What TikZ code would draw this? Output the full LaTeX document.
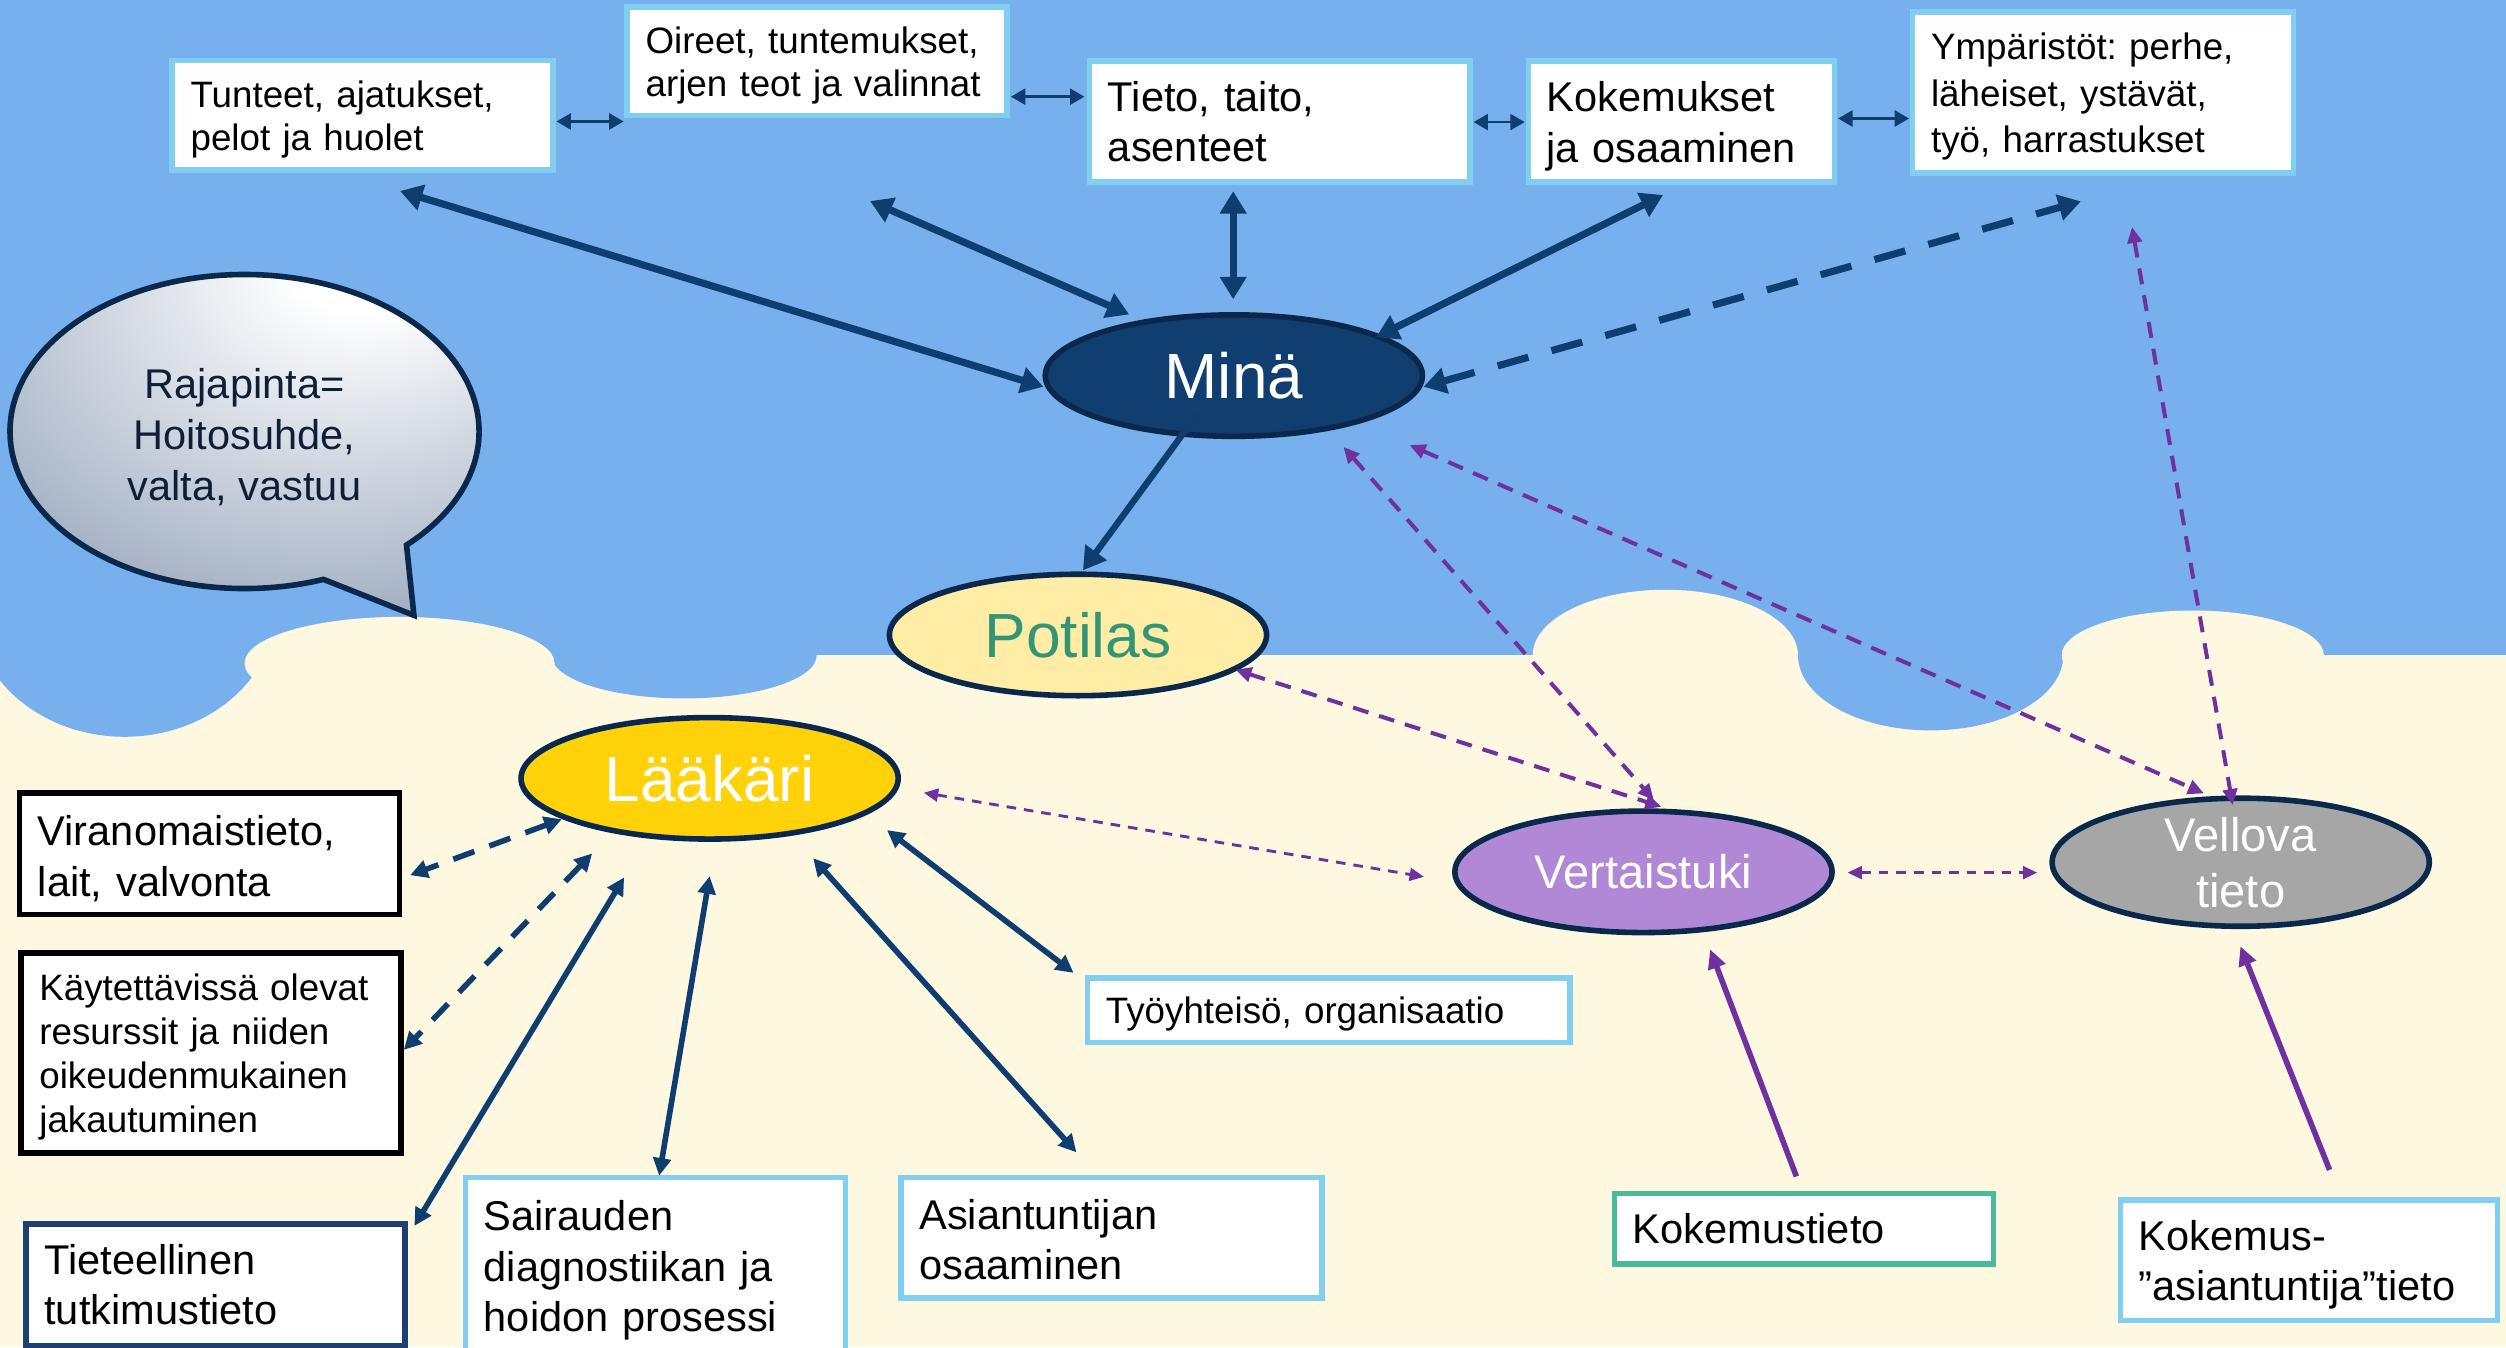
\documentclass[tikz,border=0pt]{standalone}
\usepackage{fontspec}
\setmainfont{Liberation Sans}
\usetikzlibrary{arrows.meta,calc,shapes.geometric,shapes.callouts}

\definecolor{sky}{RGB}{119,176,236}
\definecolor{sand}{RGB}{254,248,224}
\definecolor{boxblue}{RGB}{128,207,241}
\definecolor{navy}{RGB}{14,62,112}
\definecolor{rim}{RGB}{10,40,75}
\definecolor{minafill}{RGB}{16,62,112}
\definecolor{patfill}{RGB}{255,237,166}
\definecolor{pattext}{RGB}{52,148,118}
\definecolor{docfill}{RGB}{255,210,10}
\definecolor{peerfill}{RGB}{176,136,214}
\definecolor{vellfill}{RGB}{166,166,166}
\definecolor{peer}{RGB}{112,48,160}
\definecolor{expgreen}{RGB}{72,187,154}
\definecolor{bubbledark}{RGB}{112,132,162}
\definecolor{bubbletext}{RGB}{15,30,55}
\definecolor{sciblue}{RGB}{31,63,112}

\pgfdeclareradialshading{bubbleshade}{\pgfpoint{14bp}{30bp}}{color(0bp)=(white); color(8bp)=(white); color(62bp)=(bubbledark); color(100bp)=(bubbledark)}

\newcommand\fsmall{\fontsize{23}{27}\selectfont}
\newcommand\flarge{\fontsize{26}{31.5}\selectfont}
% a taller first line lowers the text block a little inside its box
\newcommand\lowerstrut{\rule{0pt}{0.95em}}

\tikzset{
  hubtip/.tip={Triangle[length=14pt,width=16pt]},
  doctip/.tip={Triangle[length=11pt,width=11pt]},
  minitip/.tip={Triangle[length=9pt,width=10pt]},
  ptip/.tip={Triangle[length=10pt,width=9pt]},
  pdtip/.tip={Triangle[length=9pt,width=8pt]},
  pstip/.tip={Triangle[length=12pt,width=11pt]},
  hub/.style={ellipse, draw=rim, line width=3.5pt, minimum width=236pt, minimum height=76pt, inner sep=0pt},
  infobox/.style={rectangle, fill=white, line width=3.5pt, inner xsep=11.5pt, inner ysep=0pt, align=left},
  selflink/.style={draw=navy, line width=4.5pt, {hubtip-hubtip}},
  selfdash/.style={selflink, dash pattern=on 20pt off 15pt},
  selfone/.style={draw=navy, line width=4pt, -{hubtip}},
  medlink/.style={draw=navy, line width=3.5pt, {doctip-doctip}},
  meddash/.style={medlink, dash pattern=on 14pt off 10pt},
  minilink/.style={draw=navy, line width=1.6pt, {minitip-minitip}},
  peerdash/.style={draw=peer, line width=2.5pt, dash pattern=on 10pt off 7pt, {ptip-ptip}},
  peerdot/.style={draw=peer, line width=1.8pt, dash pattern=on 6pt off 5pt, {pdtip-pdtip}},
  peersolid/.style={draw=peer, line width=3.5pt, -{pstip}},
  bubble/.style={ellipse callout, draw=rim, line width=3.5pt, minimum width=293.5pt, minimum height=196.5pt,
    inner sep=0pt, callout absolute pointer={(259,385)}, callout pointer arc=24,
    shade, shading=bubbleshade, align=center, text=bubbletext, font=\fontsize{26}{32}\selectfont}
}

\begin{document}
\frenchspacing
\begin{tikzpicture}[x=1pt, y=-1pt]
\useasboundingbox (0,0) rectangle (1568,843);
\clip (0,0) rectangle (1568,843);

% sky above, sand below, with a wavy border
\fill[sand] (0,0) rectangle (1568,843);
\fill[sky] (0,0) rectangle (1568,410);
\fill[sky] (78,379) ellipse [x radius=95, y radius=82];
\fill[sky] (428,410) ellipse [x radius=83, y radius=27];
\fill[sky] (1208,410) ellipse [x radius=83, y radius=47];
\fill[sand] (250,415) ellipse [x radius=97, y radius=29];
\fill[sand] (1042,410) ellipse [x radius=83, y radius=41];
\fill[sand] (1372,410) ellipse [x radius=82, y radius=28];

% speech bubble
\node[bubble] (raja) at (153,270) {\rule{0pt}{1em}Rajapinta=\\Hoitosuhde,\\valta, vastuu};

% top row
\node[infobox, draw=boxblue, minimum width=238.2pt, minimum height=68.5pt, text width=215.2pt, font=\fsmall] (tunteet) at (226.85,72) {\lowerstrut Tunteet, ajatukset,\\pelot ja huolet};
\node[infobox, draw=boxblue, minimum width=237.8pt, minimum height=68pt, text width=214.8pt, font=\fsmall] (oireet) at (511.35,38.25) {\lowerstrut Oireet, tuntemukset,\\arjen teot ja valinnat};
\node[infobox, draw=boxblue, minimum width=238pt, minimum height=75.8pt, text width=215pt, font=\flarge] (tieto) at (800.75,76.15) {Tieto, taito,\\asenteet};
\node[infobox, draw=boxblue, minimum width=191.6pt, minimum height=75.8pt, text width=168.6pt, font=\flarge] (kokem) at (1052.05,76.15) {\lowerstrut Kokemukset\\ja osaaminen};
\node[infobox, draw=boxblue, minimum width=238.3pt, minimum height=100.7pt, text width=215.3pt, font=\fontsize{23}{29}\selectfont] (ymp) at (1315.9,57.9) {\lowerstrut Ympäristöt: perhe,\\läheiset, ystävät,\\työ, harrastukset};

% left column
\node[infobox, draw=black, minimum width=237.7pt, minimum height=75.9pt, text width=214.7pt, font=\flarge] (viran) at (131,534.3) {\lowerstrut Viranomaistieto,\\lait, valvonta};
\node[infobox, draw=black, minimum width=237.8pt, minimum height=124.9pt, text width=214.8pt, font=\fontsize{23}{27.5}\selectfont] (kayt) at (132.05,658.8) {\lowerstrut Käytettävissä olevat\\resurssit ja niiden\\oikeudenmukainen\\jakautuminen};
\node[infobox, draw=sciblue, minimum width=237.3pt, minimum height=76pt, text width=214.3pt, font=\flarge] (tiet) at (134.9,803.75) {Tieteellinen\\tutkimustieto};

% bottom row
\node[infobox, draw=boxblue, minimum width=237.8pt, minimum height=110.5pt, text width=214.8pt, font=\flarge] (sair) at (410.15,792) {\lowerstrut Sairauden\\diagnostiikan ja\\hoidon prosessi};
\node[infobox, draw=boxblue, minimum width=263.5pt, minimum height=75.5pt, text width=240.5pt, font=\flarge] (asiant) at (695.5,774.5) {\rule{0pt}{0.8em}Asiantuntijan\\osaaminen};
\node[infobox, draw=boxblue, minimum width=301.8pt, minimum height=40.5pt, text width=278.8pt, font=\fsmall] (tyo) at (831.35,632) {\lowerstrut Työyhteisö, organisaatio};
\node[infobox, draw=expgreen, minimum width=237pt, minimum height=44pt, text width=214pt, font=\flarge] (kokt) at (1128.75,768.85) {Kokemustieto};
\node[infobox, draw=boxblue, minimum width=236pt, minimum height=75.5pt, text width=213pt, font=\flarge] (koka) at (1444.75,788.5) {\lowerstrut Kokemus-\\”asiantuntija”tieto};

% actors
\node[hub, fill=minafill, text=white, font=\fontsize{40}{44}\selectfont] (mina) at (772,235) {Minä};
\node[hub, fill=patfill, text=pattext, font=\fontsize{39}{43}\selectfont] (potilas) at (674.5,397.3) {Potilas};
\node[hub, fill=docfill, text=white, font=\fontsize{40}{44}\selectfont] (laakari) at (444,487) {Lääkäri};
\node[hub, fill=peerfill, text=white, font=\fontsize{29.5}{35}\selectfont] (vert) at (1028.3,545.5) {Vertaistuki};
\node[hub, fill=vellfill, text=white, align=center, font=\fontsize{29.5}{35}\selectfont] (vellova) at (1402,539.5) {Vellova\\tieto};

% links between the top boxes
\draw[minilink] ($(tunteet.east)+(0.5,4)$) -- ($(oireet.south west)+(-0.5,2)$);
\draw[minilink] ($(oireet.east)+(0.5,22.25)$) -- ($(tieto.west)+(-1.5,-15.65)$);
\draw[minilink] ($(tieto.east)+(0.5,0.25)$) -- ($(kokem.west)+(-0.5,0.25)$);
\draw[minilink] ($(kokem.east)+(0.5,-2)$) -- ($(ymp.west)+(-0.5,16.25)$);

% links of the self
\draw[selflink] ($(tunteet.south)+(23.45,11.5)$) -- ($(mina.west)+(0.6,7)$);
\draw[selflink] ($(oireet.south)+(33,51.8)$) -- ($(mina.north)+(-65.5,1.5)$);
\draw[selflink] ($(tieto.south)+(-29.15,3.8)$) -- ($(mina.north)+(-0.4,-8)$);
\draw[selflink] ($(kokem.south)+(-11.45,6.2)$) -- ($(mina.center)+(89,-24)$);
\draw[selfdash] ($(mina.east)+(-1,7)$) -- ($(ymp.south)+(-13.9,16)$);
\draw[selfone] ($(mina.center)+(-22,23)$) -- ($(potilas.north)+(3.1,-0.7)$);

% peer and experience links
\draw[peerdash] ($(mina.center)+(68.6,44.6)$) -- ($(vert.north)+(6.5,-5.15)$);
\draw[peerdash] ($(mina.center)+(110,43.5)$) -- ($(vellova.north)+(-23,-1.25)$);
\draw[peerdash] ($(ymp.south)+(18.1,32)$) -- ($(vellova.north)+(-5,6)$);
\draw[peerdash] ($(potilas.center)+(98.5,21.7)$) -- ($(vert.north)+(11.2,-0.95)$);
\draw[peerdot] ($(laakari.center)+(134,9)$) -- ($(vert.west)+(-17.55,3.1)$);
\draw[peerdot] ($(vert.east)+(7.95,0.5)$) -- ($(vellova.west)+(-7.55,6.5)$);
\draw[peersolid] ($(kokt.north)+(-4.75,-9)$) -- ($(vert.center)+(41.7,48.5)$);
\draw[peersolid] ($(koka.north)+(12.85,-17)$) -- ($(vellova.south)+(-0.2,10.75)$);

% links of the doctor
\draw[meddash] ($(laakari.center)+(-92.5,25.6)$) -- ($(viran.east)+(5,13.3)$);
\draw[meddash] ($(laakari.center)+(-73.5,47)$) -- ($(kayt.east)+(0,-1.9)$);
\draw[medlink] ($(laakari.center)+(-53.5,62)$) -- ($(tiet.north east)+(4,3)$);
\draw[medlink] ($(laakari.south)+(0,21.5)$) -- ($(sair.north)+(2.3,0.6)$);
\draw[medlink] ($(laakari.center)+(64.8,50)$) -- ($(asiant.north)+(-22,-14)$);
\draw[medlink] ($(laakari.center)+(111,32.4)$) -- ($(tyo.north west)+(-7,-1.3)$);
\end{tikzpicture}
\end{document}
